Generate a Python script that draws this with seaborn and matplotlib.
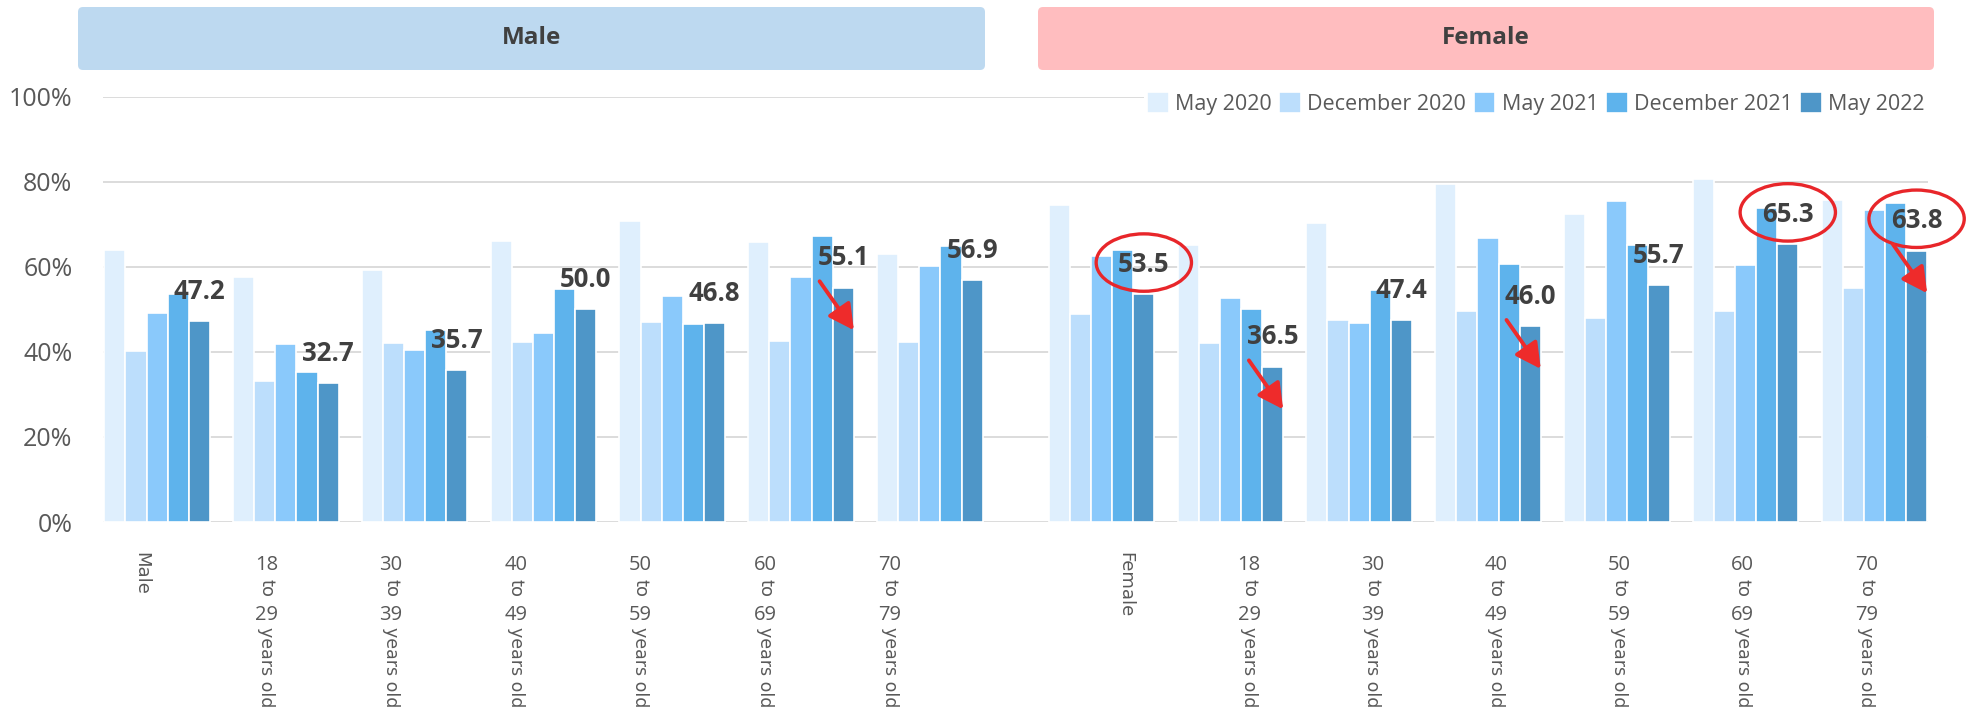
import numpy as np
import pandas as pd
import matplotlib
matplotlib.use("Agg")
import matplotlib.pyplot as plt
import seaborn as sns
from matplotlib.patches import Ellipse, FancyArrowPatch, FancyBboxPatch

# ---------------- data ----------------
genders = ["Male", "Female"]
age_groups = ["18 to 29 years old", "30 to 39 years old", "40 to 49 years old",
              "50 to 59 years old", "60 to 69 years old", "70 to 79 years old"]
periods = ["May 2020", "December 2020", "May 2021", "December 2021", "May 2022"]

male_may2020 = [64.0, 57.6, 59.3, 66.1, 70.8, 65.9, 63.0]
male_dec2020 = [40.3, 33.2, 42.1, 42.3, 47.1, 42.6, 42.3]
male_may2021 = [49.2, 41.9, 40.5, 44.5, 53.2, 57.6, 60.2]
male_dec2021 = [53.6, 35.3, 45.2, 54.8, 46.6, 67.3, 65.0]
male_may2022 = [47.2, 32.7, 35.7, 50.0, 46.8, 55.1, 56.9]

female_may2020 = [74.5, 65.2, 70.2, 79.5, 72.4, 80.7, 75.7]
female_dec2020 = [48.9, 42.2, 47.4, 49.6, 48.0, 49.6, 55.1]
female_may2021 = [62.6, 52.7, 46.8, 66.8, 75.5, 60.5, 73.4]
female_dec2021 = [64.0, 50.1, 54.6, 60.7, 65.2, 73.8, 75.0]
female_may2022 = [53.5, 36.5, 47.4, 46.0, 55.7, 65.3, 63.8]

y_ticks = [0, 20, 40, 60, 80, 100]
y_tick_labels = ["0%", "20%", "40%", "60%", "80%", "100%"]

# highlighted groups (gender, group index)
circled = [("Female", 0), ("Female", 5), ("Female", 6)]
arrowed = [("Male", 5), ("Female", 1), ("Female", 3), ("Female", 6)]

colors = ["#DFEFFD", "#BCDEFC", "#8AC9FB", "#5EB3EC", "#4E96C8"]
red = "#E8262A"
text_dark = "#404040"
text_grey = "#595959"

# ---------------- build frame ----------------
series = {
    "Male": [male_may2020, male_dec2020, male_may2021, male_dec2021, male_may2022],
    "Female": [female_may2020, female_dec2020, female_may2021, female_dec2021, female_may2022],
}
group_gap = 7 + 1 / 3  # position offset of the female block
rows = []
for gi, g in enumerate(genders):
    cats = [g] + age_groups
    for ci, c in enumerate(cats):
        for pi, p in enumerate(periods):
            rows.append({"gender": g, "group": c, "gidx": ci,
                         "xpos": ci + gi * group_gap, "period": p,
                         "value": series[g][pi][ci]})
df = pd.DataFrame(rows)

# ---------------- plot ----------------
sns.set_theme(style="white")
plt.rcParams["font.family"] = ["Open Sans", "DejaVu Sans"]

W, H = 1970, 711
fig = plt.figure(figsize=(W / 100, H / 100), dpi=100)
ax = fig.add_axes([103 / W, (H - 522) / H, (1928 - 103) / W, (522 - 96.7) / H])

sns.barplot(data=df, x="xpos", y="value", hue="period", hue_order=periods,
            palette=colors, native_scale=True, width=0.82, errorbar=None,
            edgecolor="white", linewidth=1.2, saturation=1, ax=ax)

ax.set_xlim(-0.42, 13.75)
ax.set_ylim(0, 100)
ax.set_yticks(y_ticks)
ax.set_yticklabels(y_tick_labels, fontsize=18, color=text_grey)
ax.tick_params(axis="y", length=0, pad=22)
ax.set_xticks([])
ax.set_xlabel("")
ax.set_ylabel("")
for s in ax.spines.values():
    s.set_visible(False)
ax.yaxis.grid(True, color="#D9D9D9", linewidth=1.3)
ax.set_axisbelow(True)

# legend
handles, labels = ax.get_legend_handles_labels()
ax.legend(handles, labels, ncol=5, loc="center right", bbox_to_anchor=(1.0, 0.984),
          frameon=True, facecolor="white", edgecolor="none", framealpha=1,
          fontsize=15.5, labelcolor=text_grey, handlelength=1.0, handleheight=1.1,
          handletextpad=0.3, columnspacing=0.35, borderpad=0.15, borderaxespad=0)

# bar positions from the drawn containers
cont = {p: ax.containers[i] for i, p in enumerate(periods)}
order = [(g, ci) for gi, g in enumerate(genders) for ci in range(7)]
bar_x = {}
for p in periods:
    bars = sorted(cont[p], key=lambda b: b.get_x())
    for key, b in zip(order, bars):
        bar_x[(p, key)] = (b.get_x(), b.get_width())

# data labels for May 2022
for g in genders:
    for ci in range(7):
        v = series[g][4][ci]
        x0, w = bar_x[("May 2022", (g, ci))]
        ax.text(x0 + w / 2, v + 7, f"{v:.1f}", ha="center", va="center",
                fontsize=18.5, fontweight="bold", color=text_dark, zorder=7)

# circles
for g, ci in circled:
    v = series[g][4][ci]
    x0, w = bar_x[("May 2022", (g, ci))]
    ax.add_patch(Ellipse((x0 + w / 2, v + 7.5), width=0.74, height=13.5, fill=False,
                         ec=red, lw=2.4, clip_on=False, zorder=8))

# arrows
for g, ci in arrowed:
    v = series[g][4][ci]
    xd, wd = bar_x[("December 2021", (g, ci))]
    xm, wm = bar_x[("May 2022", (g, ci))]
    ax.add_patch(FancyArrowPatch((xd + wd / 2 - 0.02, v + 1.5), (xm + wm, v - 10),
                                 arrowstyle="-|>,head_length=0.85,head_width=0.45",
                                 mutation_scale=18, color="#EE2B2B", lw=2.8,
                                 shrinkA=0, shrinkB=0, clip_on=False, zorder=8))

# category labels (drawn below the axis)
lab_pos = {"Male": np.linspace(-0.12, 5.69, 7), "Female": np.linspace(7.52, 13.27, 7)}


def put(x, txt, dy, rot=0, va="center", family="Open Sans", size=14):
    ax.annotate(txt, xy=(x, 0), xycoords=("data", "axes fraction"),
                xytext=(0, dy), textcoords="offset pixels", ha="center", va=va,
                rotation=rot, rotation_mode="default", family=family,
                fontsize=size, color=text_grey, annotation_clip=False)


for g in genders:
    xs = lab_pos[g]
    put(xs[0], g, -30, rot=270, va="top", family="DejaVu Sans", size=13)
    for k, ag in enumerate(age_groups):
        parts = ag.split(" ")
        lo, hi, rest = parts[0], parts[2], " ".join(parts[3:])
        x = xs[k + 1]
        put(x, lo, -43, size=14.5)
        put(x, parts[1], -66, rot=270, family="DejaVu Sans", size=13)
        put(x, hi, -93, size=14.5)
        put(x, rest, -105, rot=270, va="top", family="DejaVu Sans", size=12.5)

# header boxes
box_specs = [("Male", 78, 985, "#BDD9F0"), ("Female", 1038, 1934, "#FFBDBF")]
for name, x0, x1, col in box_specs:
    fig.add_artist(FancyBboxPatch((x0 / 100, (H - 70) / 100), (x1 - x0) / 100, 63 / 100,
                                  boxstyle="round,pad=0,rounding_size=0.05",
                                  transform=fig.dpi_scale_trans, fc=col, ec="none"))
    fig.text((x0 + x1) / 2 / 100, (H - 38.5) / 100, name, transform=fig.dpi_scale_trans,
             ha="center", va="center", fontsize=17.5, fontweight="bold", color=text_dark)

fig.savefig("out.png", dpi=100)
